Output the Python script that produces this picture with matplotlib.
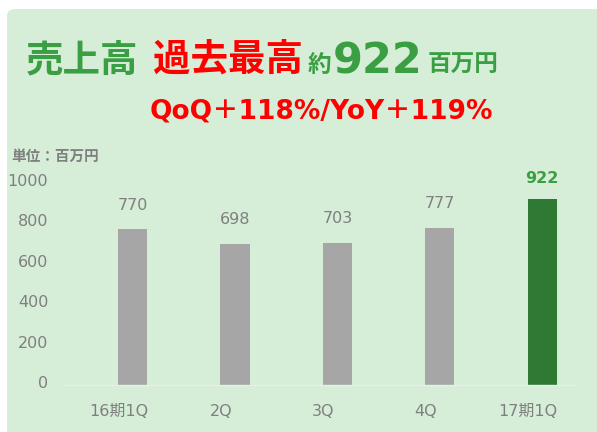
import matplotlib.pyplot as plt
from matplotlib.patches import FancyBboxPatch
from matplotlib.transforms import ScaledTranslation

plt.rcParams['font.family'] = ['DejaVu Sans', 'Noto Sans CJK JP']

# データ
quarters = ['16期1Q', '2Q', '3Q', '4Q', '17期1Q']
sales = [770, 698, 703, 777, 922]
yticks = [0, 200, 400, 600, 800, 1000]

bg_green = '#d6eed8'
gray_txt = '#7f7f7f'
bar_gray = '#a6a6a6'
bar_green = '#2e7a33'
title_green = '#3a9f43'
red = '#ff0000'
jp = ['Noto Sans CJK JP', 'DejaVu Sans']

fig = plt.figure(figsize=(5.97, 4.32), dpi=100)
W, H = 597, 432

# 背景の角丸ボックス
box = FancyBboxPatch((7 / W, -0.1), 1.2, 1 - 9 / H + 0.1,
                     boxstyle='round,pad=0,rounding_size=0.015',
                     transform=fig.transFigure, facecolor=bg_green,
                     edgecolor='none', zorder=-5)
fig.patches.append(box)

def fx(px):
    return px / W

def fy(py):
    return 1 - py / H

# タイトル
fig.text(fx(26), fy(71), '売上高', fontsize=27, weight='bold', color=title_green, family=jp)
fig.text(fx(153), fy(71), '過去最高', fontsize=27, weight='bold', color=red, family=jp)
fig.text(fx(308), fy(72), '約', fontsize=17, weight='bold', color=title_green, family=jp)
fig.text(fx(333), fy(74), '922', fontsize=31, weight='bold', color=title_green)
fig.text(fx(428), fy(72), '百万円', fontsize=17, weight='bold', color=title_green, family=jp)
fig.text(fx(150), fy(119), 'QoQ＋118%/YoY＋119%', fontsize=19, weight='bold', color=red)

fig.text(fx(11), fy(156), '単位：百万円', fontsize=10.5, weight='bold', color=gray_txt,
         va='center', family=jp)

# 棒グラフ
ax = fig.add_axes([fx(65), fy(385), fx(575) - fx(65), fy(183) - fy(385)])
ax.set_facecolor('none')
x = list(range(len(quarters)))
colors = [bar_gray] * (len(sales) - 1) + [bar_green]
bars = ax.bar(x, sales, width=0.285, color=colors, zorder=2)

for i, (b, v) in enumerate(zip(bars, sales)):
    last = i == len(sales) - 1
    ax.annotate(str(v), (b.get_x() + b.get_width() / 2, v),
                xytext=(0, 9 if last else 12), textcoords='offset points',
                ha='center', va='bottom', fontsize=11.5,
                weight='bold' if last else 'normal',
                color=title_green if last else gray_txt, annotation_clip=False)

ax.set_xlim(-0.66, 4.32)
ax.set_ylim(0, 1000)
ax.set_yticks(yticks)
ax.set_yticklabels([str(t) for t in yticks])
ax.set_xticks(x)
ax.set_xticklabels(quarters)
ax.tick_params(axis='both', length=0, labelsize=11.5, colors=gray_txt)
ax.tick_params(axis='y', pad=12)
ax.tick_params(axis='x', pad=14)
for lab in ax.get_xticklabels():
    lab.set_transform(lab.get_transform() + ScaledTranslation(-14 / 100, 0, fig.dpi_scale_trans))
for lab in ax.get_yticklabels():
    lab.set_transform(lab.get_transform() + ScaledTranslation(0, 3 / 100, fig.dpi_scale_trans))

for s in ['top', 'right', 'left']:
    ax.spines[s].set_visible(False)
ax.spines['bottom'].set_color('#e3f3e4')
ax.spines['bottom'].set_linewidth(1)

fig.savefig('out.png', dpi=100)
